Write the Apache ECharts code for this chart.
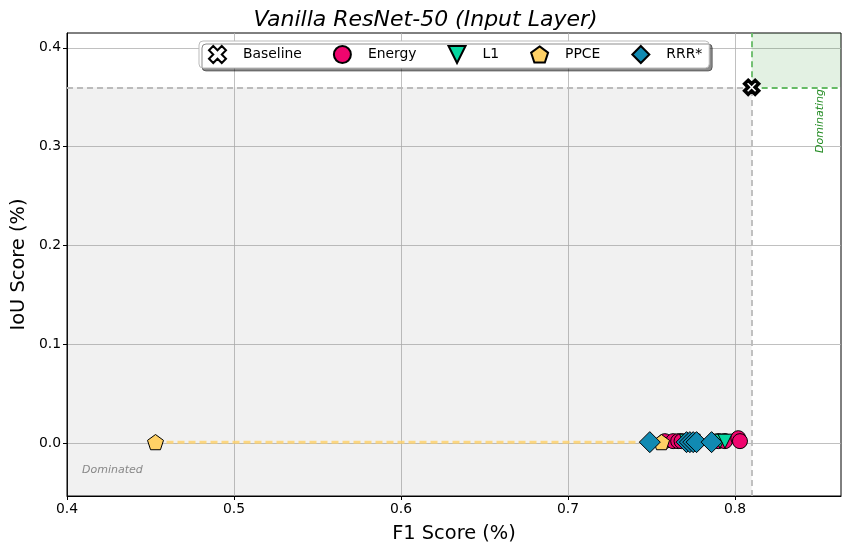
<!DOCTYPE html>
<html>
<head>
<meta charset="utf-8">
<script src="https://cdn.jsdelivr.net/npm/echarts@6/dist/echarts.min.js"></script>
<style>
  html, body { margin: 0; padding: 0; background: #fff; }
  #chart { width: 851px; height: 554px; }
</style>
</head>
<body>
<div id="chart"></div>
<script>
// axis limits and ticks
var xMin = 0.4, xMax = 0.8635;
var yMin = -0.0535, yMax = 0.415;
var xTicks = [0.4, 0.5, 0.6, 0.7, 0.8];
var yTicks = [0.0, 0.1, 0.2, 0.3, 0.4];

var methods = ['Baseline', 'Energy', 'L1', 'PPCE', 'RRR*'];

// [F1, IoU]
var baselineData = [[0.810, 0.360]];
var energyData = [[0.758, 0.002], [0.763, 0.002], [0.766, 0.002], [0.768, 0.002], [0.773, 0.002],
                  [0.790, 0.002], [0.794, 0.002], [0.802, 0.005], [0.803, 0.002]];
var l1Data = [[0.771, 0.002], [0.775, 0.002], [0.791, 0.002], [0.794, 0.002]];
var ppceData = [[0.453, 0.001], [0.756, 0.001]];
var rrrData = [[0.749, 0.001], [0.771, 0.001], [0.773, 0.001], [0.775, 0.001],
               [0.777, 0.001], [0.786, 0.001]];

var colors = {
  'Energy': '#f0056e',
  'L1': '#06d6a0',
  'PPCE': '#ffd166',
  'RRR*': '#118ab2'
};

var X_PATH = 'path://M-1,-2 L0,-1 L1,-2 L2,-1 L1,0 L2,1 L1,2 L0,1 L-1,2 L-2,1 L-1,0 L-2,-1 Z';
var PENT_PATH = 'path://M0,-1 L0.951,-0.309 L0.588,0.809 L-0.588,0.809 L-0.951,-0.309 Z';
var TRI_DOWN = 'path://M-1,-1 L1,-1 L0,1 Z';

var font = 'DejaVu Sans';

function sorted(d) {
  return d.slice().sort(function(a, b) { return a[0] - b[0]; });
}

function frontLine(name, data) {
  return {
    name: name + ' line',
    type: 'line',
    data: sorted(data),
    symbol: 'none',
    silent: true,
    z: 2,
    lineStyle: { color: colors[name], width: 3, type: [7, 4], opacity: 0.8 }
  };
}

function scatter(name, data, symbol, size) {
  return {
    name: name,
    type: 'scatter',
    data: data,
    symbol: symbol,
    symbolSize: size,
    symbolKeepAspect: true,
    z: 3,
    itemStyle: { color: colors[name], borderColor: '#000', borderWidth: 1, opacity: 1 }
  };
}

var chart = echarts.init(document.getElementById('chart'));

var bx = baselineData[0][0], by = baselineData[0][1];

chart.setOption({
  animation: false,
  title: {
    text: 'Vanilla ResNet-50 (Input Layer)',
    left: 'center',
    top: 4,
    textStyle: { fontFamily: font, fontStyle: 'italic', fontWeight: 'normal', fontSize: 22, color: '#000' }
  },
  grid: {
    left: 67, right: 10, top: 33, bottom: 58,
    show: true, borderColor: '#000', borderWidth: 1
  },
  legend: {
    data: methods,
    left: 199,
    top: 41,
    orient: 'horizontal',
    itemWidth: 17,
    itemHeight: 17,
    itemGap: 31,
    padding: [4, 7, 4, 9],
    backgroundColor: '#fff',
    borderColor: '#bbb',
    borderWidth: 1,
    borderRadius: 4,
    shadowColor: 'rgba(0,0,0,0.45)',
    shadowOffsetX: 3,
    shadowOffsetY: 3,
    shadowBlur: 0,
    textStyle: { fontFamily: font, fontSize: 13.9, color: '#000', padding: [0, 0, 0, 12] }
  },
  xAxis: {
    type: 'value',
    min: xMin,
    max: xMax,
    minInterval: 0.1,
    maxInterval: 0.1,
    name: 'F1 Score (%)',
    nameLocation: 'middle',
    nameGap: 28,
    nameTextStyle: { fontFamily: font, fontSize: 19.4, color: '#000' },
    axisLine: { show: true, onZero: false, lineStyle: { color: '#000' } },
    axisTick: { show: true, length: 4, customValues: xTicks, lineStyle: { color: '#000' } },
    axisLabel: {
      customValues: xTicks,
      fontFamily: font, fontSize: 13.9, color: '#000', margin: 6,
      formatter: function(v) { return v.toFixed(1); }
    },
    splitLine: { show: true, lineStyle: { color: '#b0b0b0', width: 0.8 } }
  },
  yAxis: {
    type: 'value',
    min: yMin,
    max: yMax,
    minInterval: 0.1,
    maxInterval: 0.1,
    name: 'IoU Score (%)',
    nameLocation: 'middle',
    nameGap: 38,
    nameTextStyle: { fontFamily: font, fontSize: 19.4, color: '#000' },
    axisLine: { show: true, onZero: false, lineStyle: { color: '#000' } },
    axisTick: { show: true, length: 4, customValues: yTicks, lineStyle: { color: '#000' } },
    axisLabel: {
      customValues: yTicks,
      fontFamily: font, fontSize: 13.9, color: '#000', margin: 6,
      formatter: function(v) { return v.toFixed(1); }
    },
    splitLine: { show: true, lineStyle: { color: '#b0b0b0', width: 0.8 } }
  },
  series: [
    frontLine('Energy', energyData),
    frontLine('L1', l1Data),
    frontLine('PPCE', ppceData),
    frontLine('RRR*', rrrData),
    scatter('Energy', energyData, 'circle', 15),
    scatter('L1', l1Data, TRI_DOWN, 14),
    scatter('PPCE', ppceData, PENT_PATH, 16),
    scatter('RRR*', rrrData, 'diamond', 21),
    {
      name: 'Baseline',
      type: 'scatter',
      data: baselineData,
      symbol: X_PATH,
      symbolSize: 14,
      symbolKeepAspect: true,
      z: 5,
      itemStyle: { color: '#fff', borderColor: '#000', borderWidth: 3.5, opacity: 1 },
      markArea: {
        silent: true,
        data: [
          [{ coord: [xMin, yMin], itemStyle: { color: 'rgba(128,128,128,0.11)' } }, { coord: [bx, by] }],
          [{ coord: [bx, by], itemStyle: { color: 'rgba(0,128,0,0.11)' } }, { coord: [xMax, yMax] }]
        ]
      },
      markLine: {
        silent: true,
        symbol: 'none',
        label: { show: false },
        data: [
          [{ coord: [xMin, by], lineStyle: { color: '#bbb', type: [6, 4], width: 1.8 } }, { coord: [bx, by] }],
          [{ coord: [bx, yMin], lineStyle: { color: '#bbb', type: [6, 4], width: 1.8 } }, { coord: [bx, by] }],
          [{ coord: [bx, by], lineStyle: { color: '#66bb66', type: [6, 4], width: 1.8 } }, { coord: [xMax, by] }],
          [{ coord: [bx, by], lineStyle: { color: '#66bb66', type: [6, 4], width: 1.8 } }, { coord: [bx, yMax] }]
        ]
      },
      markPoint: {
        silent: true,
        symbol: 'circle',
        symbolSize: 0,
        data: [
          {
            coord: [0.409, -0.027],
            label: {
              show: true, formatter: 'Dominated', position: 'right', distance: 0,
              fontFamily: font, fontStyle: 'italic', fontSize: 11, color: '#888'
            }
          },
          {
            coord: [0.851, 0.326],
            label: {
              show: true, formatter: 'Dominating', position: 'inside', rotate: 90,
              fontFamily: font, fontStyle: 'italic', fontSize: 11, color: '#228b22'
            }
          }
        ]
      }
    }
  ]
});
</script>
</body>
</html>
